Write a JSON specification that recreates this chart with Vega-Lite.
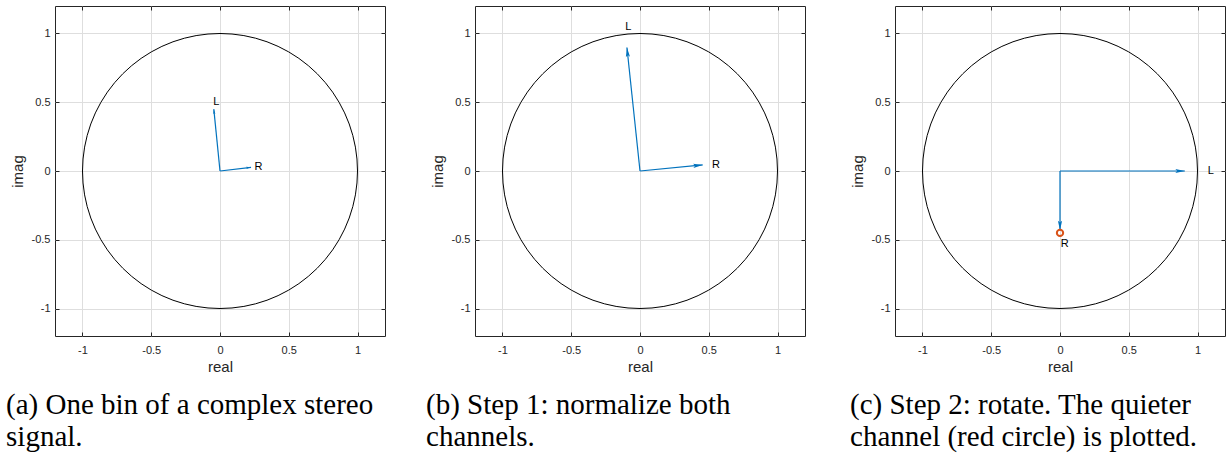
{
  "$schema": "https://vega.github.io/schema/vega-lite/v6.json",
  "background": "white",
  "padding": {"left": 5, "top": 5, "right": 0, "bottom": 0},
  "config": {
    "view": {"stroke": "#262626", "strokeWidth": 1},
    "axis": {
      "labelFont": "Liberation Sans", "labelFontSize": 11, "labelColor": "#262626",
      "titleFont": "Liberation Sans", "titleFontSize": 15, "titleFontWeight": "normal", "titleColor": "#262626",
      "gridColor": "#dedede", "gridOpacity": 1, "gridWidth": 1,
      "tickColor": "#262626", "tickSize": -4, "tickWidth": 1, "domain": false
    },
    "axisBottom": {"labelPadding": 12, "titlePadding": 4},
    "axisLeft": {"labelPadding": 9, "titlePadding": 6},
    "title": {"font": "Liberation Serif", "fontSize": 29, "fontWeight": "normal", "color": "#000000", "orient": "bottom", "anchor": "start", "frame": "bounds", "lineHeight": 32, "offset": 17}
  },
  "spacing": 90,
  "bounds": "flush",
  "datasets": {
    "circle": [
      {"k":0,"re":1,"im":0},{"k":1,"re":0.9962,"im":0.0872},{"k":2,"re":0.9848,"im":0.1736},{"k":3,"re":0.9659,"im":0.2588},{"k":4,"re":0.9397,"im":0.342},{"k":5,"re":0.9063,"im":0.4226},{"k":6,"re":0.866,"im":0.5},{"k":7,"re":0.8192,"im":0.5736},{"k":8,"re":0.766,"im":0.6428},{"k":9,"re":0.7071,"im":0.7071},{"k":10,"re":0.6428,"im":0.766},{"k":11,"re":0.5736,"im":0.8192},{"k":12,"re":0.5,"im":0.866},{"k":13,"re":0.4226,"im":0.9063},{"k":14,"re":0.342,"im":0.9397},{"k":15,"re":0.2588,"im":0.9659},{"k":16,"re":0.1736,"im":0.9848},{"k":17,"re":0.0872,"im":0.9962},{"k":18,"re":0,"im":1},
      {"k":19,"re":-0.0872,"im":0.9962},{"k":20,"re":-0.1736,"im":0.9848},{"k":21,"re":-0.2588,"im":0.9659},{"k":22,"re":-0.342,"im":0.9397},{"k":23,"re":-0.4226,"im":0.9063},{"k":24,"re":-0.5,"im":0.866},{"k":25,"re":-0.5736,"im":0.8192},{"k":26,"re":-0.6428,"im":0.766},{"k":27,"re":-0.7071,"im":0.7071},{"k":28,"re":-0.766,"im":0.6428},{"k":29,"re":-0.8192,"im":0.5736},{"k":30,"re":-0.866,"im":0.5},{"k":31,"re":-0.9063,"im":0.4226},{"k":32,"re":-0.9397,"im":0.342},{"k":33,"re":-0.9659,"im":0.2588},{"k":34,"re":-0.9848,"im":0.1736},{"k":35,"re":-0.9962,"im":0.0872},{"k":36,"re":-1,"im":0},
      {"k":37,"re":-0.9962,"im":-0.0872},{"k":38,"re":-0.9848,"im":-0.1736},{"k":39,"re":-0.9659,"im":-0.2588},{"k":40,"re":-0.9397,"im":-0.342},{"k":41,"re":-0.9063,"im":-0.4226},{"k":42,"re":-0.866,"im":-0.5},{"k":43,"re":-0.8192,"im":-0.5736},{"k":44,"re":-0.766,"im":-0.6428},{"k":45,"re":-0.7071,"im":-0.7071},{"k":46,"re":-0.6428,"im":-0.766},{"k":47,"re":-0.5736,"im":-0.8192},{"k":48,"re":-0.5,"im":-0.866},{"k":49,"re":-0.4226,"im":-0.9063},{"k":50,"re":-0.342,"im":-0.9397},{"k":51,"re":-0.2588,"im":-0.9659},{"k":52,"re":-0.1736,"im":-0.9848},{"k":53,"re":-0.0872,"im":-0.9962},{"k":54,"re":0,"im":-1},
      {"k":55,"re":0.0872,"im":-0.9962},{"k":56,"re":0.1736,"im":-0.9848},{"k":57,"re":0.2588,"im":-0.9659},{"k":58,"re":0.342,"im":-0.9397},{"k":59,"re":0.4226,"im":-0.9063},{"k":60,"re":0.5,"im":-0.866},{"k":61,"re":0.5736,"im":-0.8192},{"k":62,"re":0.6428,"im":-0.766},{"k":63,"re":0.7071,"im":-0.7071},{"k":64,"re":0.766,"im":-0.6428},{"k":65,"re":0.8192,"im":-0.5736},{"k":66,"re":0.866,"im":-0.5},{"k":67,"re":0.9063,"im":-0.4226},{"k":68,"re":0.9397,"im":-0.342},{"k":69,"re":0.9659,"im":-0.2588},{"k":70,"re":0.9848,"im":-0.1736},{"k":71,"re":0.9962,"im":-0.0872},{"k":72,"re":1,"im":0}
    ],
    "arrowsA": [
      {"ch":"L","x0":0,"y0":0,"re":-0.045,"im":0.45,"phase":95.7,"lx":-0.05,"ly":0.5},
      {"ch":"R","x0":0,"y0":0,"re":0.226,"im":0.027,"phase":6.8,"lx":0.25,"ly":0.028}
    ],
    "arrowsB": [
      {"ch":"L","x0":0,"y0":0,"re":-0.095,"im":0.898,"phase":96.0,"lx":-0.107,"ly":1.045},
      {"ch":"R","x0":0,"y0":0,"re":0.456,"im":0.044,"phase":5.5,"lx":0.524,"ly":0.044}
    ],
    "arrowsC": [
      {"ch":"L","x0":0,"y0":0,"re":0.908,"im":0,"phase":0,"lx":1.075,"ly":0},
      {"ch":"R","x0":0,"y0":0,"re":0,"im":-0.43,"phase":-90,"lx":0.005,"ly":-0.53}
    ],
    "quieter": [
      {"re":0,"im":-0.45}
    ]
  },
  "hconcat": [
    {
      "width": 330, "height": 330,
      "title": {"text": ["(a) One bin of a complex stereo", "signal."], "dx": -4},
      "resolve": {"axis": {"x": "independent", "y": "independent"}},
      "layer": [
        {"data": {"name": "circle"}, "mark": {"type": "line", "color": "#000000", "strokeWidth": 1},
         "encoding": {
           "x": {"field": "re", "type": "quantitative", "scale": {"domain": [-1.2, 1.2], "nice": false, "zero": false}, "axis": {"orient": "bottom", "title": "real", "values": [-1, -0.5, 0, 0.5, 1], "grid": true, "labelExpr": "datum.value < 0 ? '-' + format(-datum.value, '') : format(datum.value, '')"}},
           "y": {"field": "im", "type": "quantitative", "scale": {"domain": [-1.2, 1.2], "nice": false, "zero": false}, "axis": {"orient": "left", "title": "imag", "values": [-1, -0.5, 0, 0.5, 1], "grid": true, "labelExpr": "datum.value < 0 ? '-' + format(-datum.value, '') : format(datum.value, '')"}},
           "order": {"field": "k", "type": "quantitative"}}},
        {"data": {"name": "arrowsA"}, "mark": {"type": "rule", "color": "#0072BD", "strokeWidth": 1.2},
         "encoding": {
           "x": {"field": "x0", "type": "quantitative", "scale": {"domain": [-1.2, 1.2], "nice": false, "zero": false}, "axis": {"orient": "top", "title": null, "labels": false, "grid": false, "values": [-1, -0.5, 0, 0.5, 1]}},
           "y": {"field": "y0", "type": "quantitative", "scale": {"domain": [-1.2, 1.2], "nice": false, "zero": false}, "axis": {"orient": "right", "title": null, "labels": false, "grid": false, "values": [-1, -0.5, 0, 0.5, 1]}},
           "x2": {"field": "re"}, "y2": {"field": "im"}}},
        {"data": {"name": "arrowsA"}, "mark": {"type": "point", "shape": "M0,0L-0.22,1L0,0.8L0.22,1Z", "filled": true, "color": "#0072BD", "size": 100, "opacity": 1},
         "encoding": {
           "x": {"field": "re", "type": "quantitative", "axis": null},
           "y": {"field": "im", "type": "quantitative", "axis": null},
           "angle": {"field": "phase", "type": "quantitative", "scale": {"domain": [-180, 180], "range": [270, -90]}, "legend": null}}},
        {"data": {"name": "arrowsA"}, "mark": {"type": "text", "align": "left", "baseline": "middle", "font": "Liberation Sans", "fontSize": 11, "color": "#000000"},
         "encoding": {
           "x": {"field": "lx", "type": "quantitative", "axis": null},
           "y": {"field": "ly", "type": "quantitative", "axis": null},
           "text": {"field": "ch"}}}
      ]
    },
    {
      "width": 330, "height": 330,
      "title": {"text": ["(b) Step 1: normalize both", "channels."], "dx": -4},
      "resolve": {"axis": {"x": "independent", "y": "independent"}},
      "layer": [
        {"data": {"name": "circle"}, "mark": {"type": "line", "color": "#000000", "strokeWidth": 1},
         "encoding": {
           "x": {"field": "re", "type": "quantitative", "scale": {"domain": [-1.2, 1.2], "nice": false, "zero": false}, "axis": {"orient": "bottom", "title": "real", "values": [-1, -0.5, 0, 0.5, 1], "grid": true, "labelExpr": "datum.value < 0 ? '-' + format(-datum.value, '') : format(datum.value, '')"}},
           "y": {"field": "im", "type": "quantitative", "scale": {"domain": [-1.2, 1.2], "nice": false, "zero": false}, "axis": {"orient": "left", "title": "imag", "values": [-1, -0.5, 0, 0.5, 1], "grid": true, "labelExpr": "datum.value < 0 ? '-' + format(-datum.value, '') : format(datum.value, '')"}},
           "order": {"field": "k", "type": "quantitative"}}},
        {"data": {"name": "arrowsB"}, "mark": {"type": "rule", "color": "#0072BD", "strokeWidth": 1.2},
         "encoding": {
           "x": {"field": "x0", "type": "quantitative", "scale": {"domain": [-1.2, 1.2], "nice": false, "zero": false}, "axis": {"orient": "top", "title": null, "labels": false, "grid": false, "values": [-1, -0.5, 0, 0.5, 1]}},
           "y": {"field": "y0", "type": "quantitative", "scale": {"domain": [-1.2, 1.2], "nice": false, "zero": false}, "axis": {"orient": "right", "title": null, "labels": false, "grid": false, "values": [-1, -0.5, 0, 0.5, 1]}},
           "x2": {"field": "re"}, "y2": {"field": "im"}}},
        {"data": {"name": "arrowsB"}, "mark": {"type": "point", "shape": "M0,0L-0.22,1L0,0.8L0.22,1Z", "filled": true, "color": "#0072BD", "size": 361, "opacity": 1},
         "encoding": {
           "x": {"field": "re", "type": "quantitative", "axis": null},
           "y": {"field": "im", "type": "quantitative", "axis": null},
           "angle": {"field": "phase", "type": "quantitative", "scale": {"domain": [-180, 180], "range": [270, -90]}, "legend": null}}},
        {"data": {"name": "arrowsB"}, "mark": {"type": "text", "align": "left", "baseline": "middle", "font": "Liberation Sans", "fontSize": 11, "color": "#000000"},
         "encoding": {
           "x": {"field": "lx", "type": "quantitative", "axis": null},
           "y": {"field": "ly", "type": "quantitative", "axis": null},
           "text": {"field": "ch"}}}
      ]
    },
    {
      "width": 330, "height": 330,
      "title": {"text": ["(c) Step 2: rotate. The quieter", "channel (red circle) is plotted."], "dx": 0},
      "resolve": {"axis": {"x": "independent", "y": "independent"}},
      "layer": [
        {"data": {"name": "circle"}, "mark": {"type": "line", "color": "#000000", "strokeWidth": 1},
         "encoding": {
           "x": {"field": "re", "type": "quantitative", "scale": {"domain": [-1.2, 1.2], "nice": false, "zero": false}, "axis": {"orient": "bottom", "title": "real", "values": [-1, -0.5, 0, 0.5, 1], "grid": true, "labelExpr": "datum.value < 0 ? '-' + format(-datum.value, '') : format(datum.value, '')"}},
           "y": {"field": "im", "type": "quantitative", "scale": {"domain": [-1.2, 1.2], "nice": false, "zero": false}, "axis": {"orient": "left", "title": "imag", "values": [-1, -0.5, 0, 0.5, 1], "grid": true, "labelExpr": "datum.value < 0 ? '-' + format(-datum.value, '') : format(datum.value, '')"}},
           "order": {"field": "k", "type": "quantitative"}}},
        {"data": {"name": "arrowsC"}, "mark": {"type": "rule", "color": "#0072BD", "strokeWidth": 1.2},
         "encoding": {
           "x": {"field": "x0", "type": "quantitative", "scale": {"domain": [-1.2, 1.2], "nice": false, "zero": false}, "axis": {"orient": "top", "title": null, "labels": false, "grid": false, "values": [-1, -0.5, 0, 0.5, 1]}},
           "y": {"field": "y0", "type": "quantitative", "scale": {"domain": [-1.2, 1.2], "nice": false, "zero": false}, "axis": {"orient": "right", "title": null, "labels": false, "grid": false, "values": [-1, -0.5, 0, 0.5, 1]}},
           "x2": {"field": "re"}, "y2": {"field": "im"}}},
        {"data": {"name": "arrowsC"}, "mark": {"type": "point", "shape": "M0,0L-0.22,1L0,0.8L0.22,1Z", "filled": true, "color": "#0072BD", "size": 361, "opacity": 1},
         "encoding": {
           "x": {"field": "re", "type": "quantitative", "axis": null},
           "y": {"field": "im", "type": "quantitative", "axis": null},
           "angle": {"field": "phase", "type": "quantitative", "scale": {"domain": [-180, 180], "range": [270, -90]}, "legend": null}}},
        {"data": {"name": "quieter"}, "mark": {"type": "point", "shape": "circle", "filled": false, "color": "#D95319", "strokeWidth": 2, "size": 40, "opacity": 1},
         "encoding": {
           "x": {"field": "re", "type": "quantitative", "axis": null},
           "y": {"field": "im", "type": "quantitative", "axis": null}}},
        {"data": {"name": "arrowsC"}, "mark": {"type": "text", "align": "left", "baseline": "middle", "font": "Liberation Sans", "fontSize": 11, "color": "#000000"},
         "encoding": {
           "x": {"field": "lx", "type": "quantitative", "axis": null},
           "y": {"field": "ly", "type": "quantitative", "axis": null},
           "text": {"field": "ch"}}}
      ]
    }
  ]
}
